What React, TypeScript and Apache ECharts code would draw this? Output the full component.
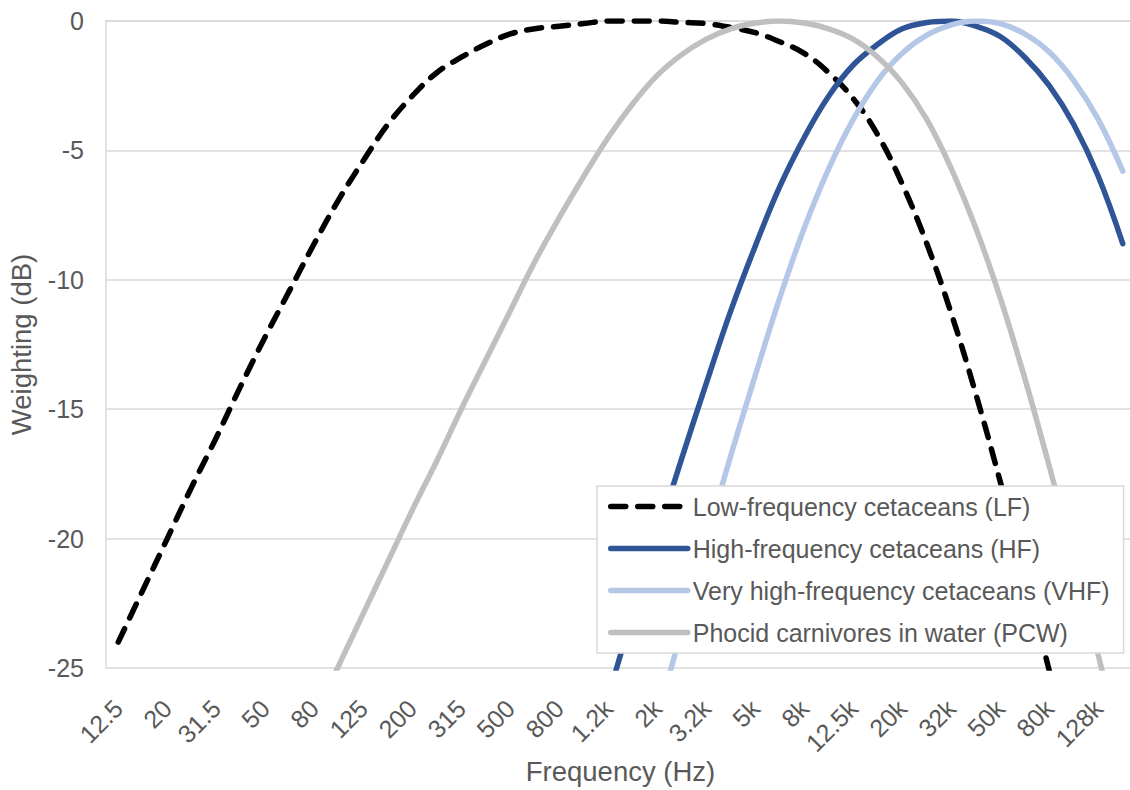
import React, { useEffect, useRef } from "react";
import * as echarts from "echarts";

// 1/3-octave band centres (every other one labelled)
const categories = [
  "12.5", "16", "20", "25", "31.5", "40", "50", "63", "80", "100",
  "125", "160", "200", "250", "315", "400", "500", "630", "800", "1k",
  "1.2k", "1.6k", "2k", "2.5k", "3.2k", "4k", "5k", "6.3k", "8k", "10k",
  "12.5k", "16k", "20k", "25k", "32k", "40k", "50k", "63k", "80k", "100k",
  "128k", "160k",
];

const seriesNames = [
  "Low-frequency cetaceans (LF)",
  "High-frequency cetaceans (HF)",
  "Very high-frequency cetaceans (VHF)",
  "Phocid carnivores in water (PCW)",
];

const lfValues = [
  -24.0, -22.0, -20.0, -18.0, -16.1, -14.1, -12.2, -10.4, -8.6, -6.9,
  -5.4, -4.0, -2.9, -2.0, -1.4, -0.9, -0.5, -0.3, -0.2, -0.1,
  0.0, 0.0, 0.0, -0.05, -0.1, -0.25, -0.45, -0.8, -1.25, -2.0,
  -3.0, -4.4, -6.3, -8.6, -11.3, -14.4, -17.8, -21.4, -25.1, -28.9,
  -32.8, -36.7,
];

const hfValues = [
  null, null, null, null, null, null, null, null, null, null,
  null, null, null, null, null, null, null, null, -32.4, -29.2,
  -26.1, -22.9, -19.9, -16.9, -14.0, -11.2, -8.7, -6.4, -4.5, -2.9,
  -1.7, -0.9, -0.3, -0.06, 0.0, -0.2, -0.6, -1.4, -2.5, -4.0,
  -6.0, -8.6,
];

const vhfValues = [
  null, null, null, null, null, null, null, null, null, null,
  null, null, null, null, null, null, null, null, null, null,
  -34.1, -30.5, -27.0, -23.5, -20.1, -16.8, -13.7, -10.7, -8.0, -5.7,
  -3.8, -2.3, -1.25, -0.55, -0.15, 0.0, -0.1, -0.5, -1.2, -2.3,
  -3.8, -5.8,
];

const pcwValues = [
  null, null, null, null, null, null, null, -28.9, -26.9, -24.9,
  -22.9, -20.9, -18.9, -17.0, -15.0, -13.1, -11.2, -9.3, -7.6, -6.0,
  -4.5, -3.2, -2.1, -1.3, -0.7, -0.3, -0.08, 0.0, -0.08, -0.3,
  -0.7, -1.4, -2.4, -3.8, -5.7, -8.0, -10.7, -13.8, -17.2, -20.8,
  -24.5, -28.4,
];

const FONT = "'Liberation Sans', Arial, sans-serif";
const TEXT = "#595959";
const GRID = "#d9d9d9";

export default function App() {
  const ref = useRef<HTMLDivElement>(null);

  useEffect(() => {
    if (!ref.current) return;
    const chart = echarts.init(ref.current, null, { renderer: "svg" });
    const mk = (name: string, data: (number | null)[], color: string, dashed: boolean) => ({
      name,
      type: "line",
      data,
      smooth: 0.4,
      symbol: "circle",
      showSymbol: false,
      clip: true,
      lineStyle: {
        color,
        width: 5.5,
        type: dashed ? [15, 12] : "solid",
        cap: "round",
        join: "round",
      },
      itemStyle: { color },
    });
    chart.setOption({
      animation: false,
      backgroundColor: "#ffffff",
      textStyle: { fontFamily: FONT },
      grid: {
        left: 106,
        top: 21,
        width: 1029,
        height: 647,
        containLabel: false,
        outerBoundsMode: "none",
      },
      xAxis: {
        type: "category",
        data: categories,
        boundaryGap: true,
        axisLine: { show: true, lineStyle: { color: GRID, width: 1.5 } },
        axisTick: { show: false },
        axisLabel: {
          interval: 1,
          rotate: 45,
          margin: 36,
          fontSize: 25,
          color: TEXT,
          fontFamily: FONT,
        },
        name: "Frequency (Hz)",
        nameLocation: "middle",
        nameGap: 89,
        nameMoveOverlap: false,
        nameTextStyle: { fontSize: 27.5, color: TEXT, fontFamily: FONT },
      },
      yAxis: {
        type: "value",
        min: -25,
        max: 0,
        interval: 5,
        axisLine: { show: true, lineStyle: { color: GRID, width: 1.5 } },
        axisTick: { show: false },
        splitLine: { show: true, lineStyle: { color: GRID, width: 1.5 } },
        axisLabel: { margin: 22, fontSize: 25, color: TEXT, fontFamily: FONT },
        name: "Weighting (dB)",
        nameLocation: "middle",
        nameGap: 71,
        nameRotate: 90,
        nameMoveOverlap: false,
        nameTextStyle: { fontSize: 27.5, color: TEXT, fontFamily: FONT },
      },
      legend: {
        data: seriesNames,
        orient: "vertical",
        left: 597,
        top: 486,
        padding: [8, 14, 8, 11],
        itemWidth: 77,
        itemHeight: 20,
        itemGap: 17,
        backgroundColor: "#ffffff",
        borderColor: GRID,
        borderWidth: 1.5,
        itemStyle: { opacity: 0 },
        lineStyle: { width: 5.5, cap: "round" },
        textStyle: { fontSize: 25, color: TEXT, fontFamily: FONT, lineHeight: 25 },
      },
      series: [
        mk(seriesNames[0], lfValues, "#000000", true),
        mk(seriesNames[1], hfValues, "#2F5597", false),
        mk(seriesNames[2], vhfValues, "#B4C7E7", false),
        mk(seriesNames[3], pcwValues, "#BFBFBF", false),
      ],
    });
    return () => chart.dispose();
  }, []);

  return (
    <div
      ref={ref}
      style={{ position: "absolute", left: 0, top: 0, width: 1130, height: 790, background: "#fff" }}
    />
  );
}
